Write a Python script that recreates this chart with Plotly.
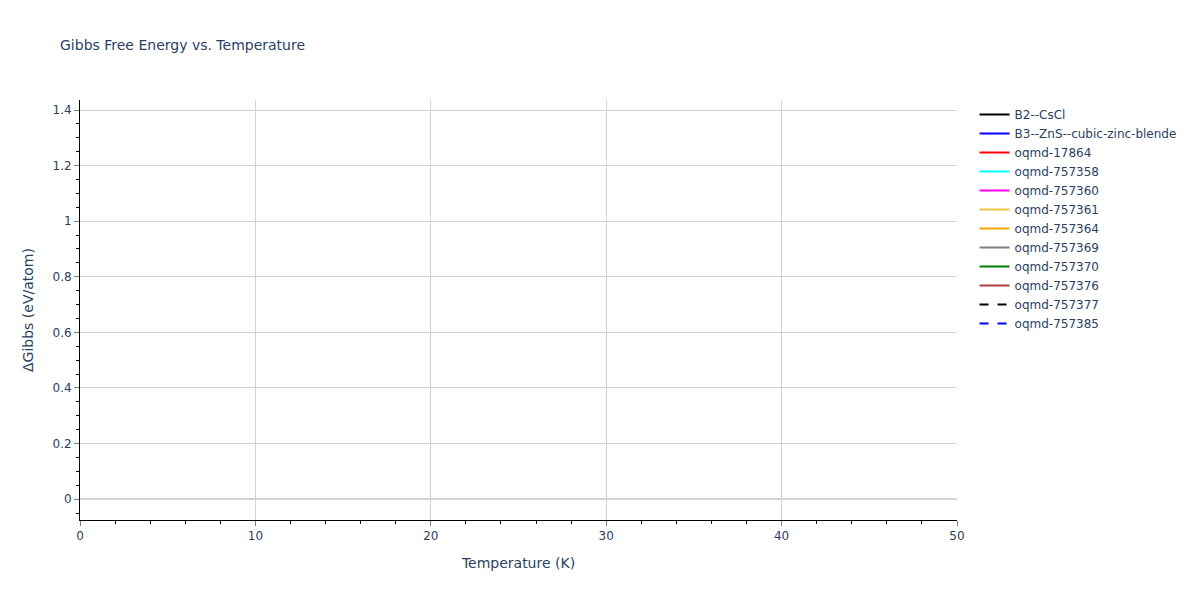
import plotly.graph_objects as go

# nomes das fases (legenda) e estilos das linhas
fases = [
    "B2--CsCl",
    "B3--ZnS--cubic-zinc-blende",
    "oqmd-17864",
    "oqmd-757358",
    "oqmd-757360",
    "oqmd-757361",
    "oqmd-757364",
    "oqmd-757369",
    "oqmd-757370",
    "oqmd-757376",
    "oqmd-757377",
    "oqmd-757385",
]
cores = ["black", "blue", "red", "cyan", "magenta", "#f0c53f", "orange",
         "gray", "green", "#b04040", "black", "blue"]
tracos = ["solid"] * 10 + ["dash", "dash"]

# nenhuma curva aparece dentro da janela visível: valores ausentes
temperaturas = [0, 50]
delta_gibbs = {fase: [None, None] for fase in fases}

fig = go.Figure()
for fase, cor, traco in zip(fases, cores, tracos):
    fig.add_trace(go.Scatter(
        x=temperaturas,
        y=delta_gibbs[fase],
        mode="lines",
        name=fase,
        line=dict(color=cor, dash=traco, width=2),
    ))

eixo = dict(
    showline=True, linecolor="black", linewidth=1,
    showgrid=True, gridcolor="lightgray",
    zeroline=True, zerolinecolor="lightgray", zerolinewidth=2,
    ticks="outside", tickcolor="gray", ticklen=5,
)
fig.update_layout(
    template="plotly_white",
    width=1200, height=600,
    margin=dict(l=80, r=243, t=100, b=80),
    font=dict(family="Verdana, DejaVu Sans"),
    title=dict(text="Gibbs Free Energy vs. Temperature", font=dict(size=14)),
    xaxis=dict(eixo, title="Temperature (K)", range=[0, 50], dtick=10,
               minor=dict(ticks="outside", dtick=2, ticklen=3, tickcolor="black")),
    yaxis=dict(eixo, title="ΔGibbs (eV/atom)", range=[-0.075, 1.436], dtick=0.2,
               minor=dict(ticks="outside", dtick=0.05, ticklen=3, tickcolor="black")),
    showlegend=True,
)
# tira a margem do body para o gráfico ocupar a janela inteira
fig.write_html("out.html", config={"displayModeBar": False},
               post_script="document.body.style.margin='0px';")
